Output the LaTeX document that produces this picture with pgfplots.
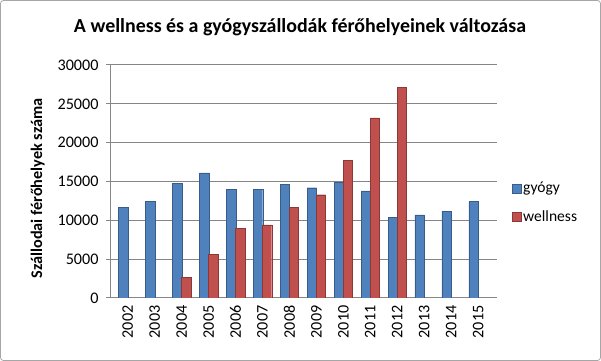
\documentclass[border=0pt]{standalone}
\usepackage{pgfplots}
\pgfplotsset{compat=1.18}
\usepackage{fontspec}
\setmainfont{Carlito}
\definecolor{gyblue}{HTML}{4F81BD}
\definecolor{gybluedk}{HTML}{385D8A}
\definecolor{wred}{HTML}{C0504D}
\definecolor{wreddk}{HTML}{8C3836}
\definecolor{gridgr}{HTML}{868686}
\begin{document}
\begin{tikzpicture}
\useasboundingbox (0,0) rectangle (601bp,361bp);
\draw[gray!70, line width=0.8bp, rounded corners=3bp] (0.5bp,0.5bp) rectangle (600.5bp,360.5bp);
\node[font=\fontsize{20}{24}\selectfont\bfseries] at (300bp,334bp) {A wellness és a gyógyszállodák férőhelyeinek változása};
\begin{axis}[
  at={(110bp,63bp)}, anchor=south west,
  scale only axis, width=387bp, height=233bp,
  xmin=-0.657, xmax=13.7, ymin=0, ymax=30000,
  ybar, bar width=9.5bp,
  xtick={0,...,13},
  xticklabels={2002,2003,2004,2005,2006,2007,2008,2009,2010,2011,2012,2013,2014,2015},
  x tick label style={rotate=90, anchor=east, font=\fontsize{16.2}{19}\selectfont},
  xtick style={draw=none},
  ytick={0,5000,...,30000},
  y tick label style={font=\fontsize{16.2}{19}\selectfont, xshift=-4bp},
  /pgf/number format/assume math mode=true,
  scaled y ticks=false,
  yticklabel style={/pgf/number format/set thousands separator={}},
  ymajorgrids, grid style={gridgr, line width=1bp},
  axis x line*=bottom, axis y line*=left,
  axis line style={gridgr, line width=1bp},
  ytick style={gridgr, line width=1bp},
  tick align=outside, major tick length=4bp,
  ylabel={\bfseries Szállodai férőhelyek száma},
  ylabel style={font=\fontsize{16.3}{19}\selectfont, at={(axis description cs:-0.16,0.47)}},
  legend style={draw=none, fill=none, at={(axis description cs:1.03,0.41)}, anchor=west,
    font=\fontsize{15.6}{18}\selectfont, row sep=12bp, legend cell align=left},
  legend image code/.code={\fill[#1] (0bp,-4.5bp) rectangle (9bp,4.5bp);},
]
\addplot[fill=gyblue, draw=gybluedk, bar shift=-4.5bp] coordinates {
(0,11700) (1,12400) (2,14800) (3,16100) (4,14000) (5,14000) (6,14600)
(7,14200) (8,14900) (9,13800) (10,10400) (11,10700) (12,11200) (13,12400)};
\addlegendentry{gyógy}
\addplot[fill=wred, draw=wreddk, bar shift=4.5bp] coordinates {
(2,2700) (3,5600) (4,9000) (5,9400) (6,11700) (7,13300) (8,17700) (9,23200) (10,27100)};
\addlegendentry{wellness}
\end{axis}
\end{tikzpicture}
\end{document}
